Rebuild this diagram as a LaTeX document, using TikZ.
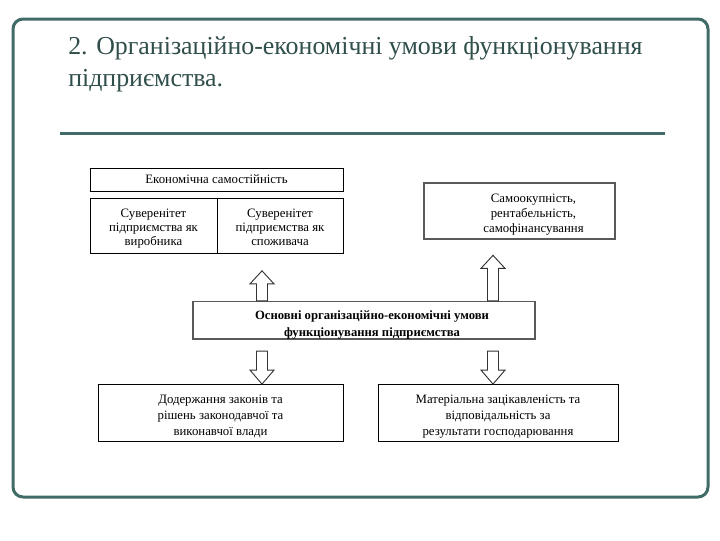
\documentclass[tikz,border=0pt]{standalone}
\usepackage{fontspec}
\setmainfont{Liberation Serif}
\newcommand{\pxu}{0.75pt}
\begin{document}
\begin{tikzpicture}[x=0.75pt,y=-0.75pt]
\definecolor{frameclr}{rgb}{0.25,0.42,0.40}
\definecolor{titleclr}{rgb}{0.19,0.31,0.30}
\definecolor{edgeclr}{rgb}{0.35,0.35,0.35}
\tikzset{
  box/.style={draw=black,line width=0.6pt,inner sep=0pt,align=center,
    font=\fontsize{9.6}{10.6}\selectfont,
    execute at begin node=\strut,execute at end node=\strut},
  keybox/.style={box,draw=edgeclr,line width=1pt},
  boldtxt/.style={align=center,inner sep=0pt,
    font=\bfseries\fontsize{9.5}{12.75}\selectfont},
  arrowline/.style={draw=black!80,line width=0.7pt,fill=white},
  pics/blockup/.style={code={
    \path[arrowline] (-5.5,0) -- (-5.5,-#1+13) -- (-12,-#1+13) -- (0,-#1)
      -- (12,-#1+13) -- (5.5,-#1+13) -- (5.5,0) -- cycle;}},
  pics/blockdown/.style={code={
    \path[arrowline] (0,0) -- (-12,-14) -- (-5.5,-14) -- (-5.5,-#1)
      -- (5.5,-#1) -- (5.5,-14) -- (12,-14) -- cycle;}}
}
\useasboundingbox (0,0) rectangle (720,540);
% frame and heading
\draw[frameclr,line width=3*\pxu,rounded corners=10*\pxu] (13,19) rectangle (708,497);
\node[anchor=base west,inner sep=0pt,text=titleclr,align=left,
  font=\fontsize{19.4}{23.6}\selectfont] (title) at (68,86)
  {2. Організаційно-економічні умови функціонування\\підприємства.};
\draw[frameclr,line width=3*\pxu] (60,133) -- (665,133);
% boxes
\node[box,minimum width=253*\pxu,minimum height=23*\pxu,
  text height=9pt,text depth=3.2pt] (eco) at (216.5,179.5)
  {Економічна самостійність};
\node[box,minimum width=127*\pxu,minimum height=55*\pxu,
  text height=32.4pt,text depth=3.2pt] (sovL) at (153.5,226)
  {Суверенітет\\підприємства як\\виробника};
\node[box,minimum width=126*\pxu,minimum height=55*\pxu,
  text height=32.4pt,text depth=3.2pt] (sovR) at (280,226)
  {Суверенітет\\підприємства як\\споживача};
\node[keybox,minimum width=191*\pxu,minimum height=56*\pxu,
  label={[box,draw=none,font=\fontsize{9.6}{11.25}\selectfont,
    text height=34.9pt,text depth=3.4pt,xshift=14*\pxu]center:{Самоокупність,\\рентабельність,\\самофінансування}}]
  (self) at (519.5,211) {};
\node[keybox,minimum width=342*\pxu,minimum height=37.5*\pxu,
  label={[boldtxt,xshift=8*\pxu,yshift=-4.5*\pxu]center:{Основні організаційно-економічні умови\\функціонування підприємства}}]
  (main) at (364,320.25) {};
\node[box,minimum width=245*\pxu,minimum height=57*\pxu,
  font=\fontsize{9.6}{12}\selectfont,
  text height=37.6pt,text depth=3.6pt] (lawb) at (220.5,413)
  {Додержання законів та\\рішень законодавчої та\\виконавчої влади};
\node[box,minimum width=240*\pxu,minimum height=57*\pxu,
  font=\fontsize{9.6}{12}\selectfont,
  text height=37.6pt,text depth=3.6pt] (matb) at (498,413)
  {Матеріальна зацікавленість та\\відповідальність за\\результати господарювання};
% block arrows
\coordinate (colL) at (262,0);
\coordinate (colR) at (493,0);
\pic at (main.north -| colL) {blockup=30};
\pic at (main.north -| colR) {blockup=45.5};
\pic at (lawb.north -| colL) {blockdown=33};
\pic at (matb.north -| colR) {blockdown=33};
\end{tikzpicture}
\end{document}
